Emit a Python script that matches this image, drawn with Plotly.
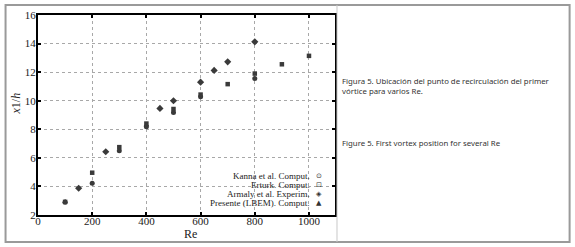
import plotly.graph_objects as go

# ---- data ----
kanna_re = [100, 200, 300, 400, 500, 600, 800]
kanna_x1 = [2.9, 4.22, 6.5, 8.17, 9.18, 10.27, 11.56]

erturk_re = [100, 200, 300, 400, 500, 600, 700, 800, 900, 1000]
erturk_x1 = [2.92, 4.96, 6.75, 8.4, 9.42, 10.43, 11.16, 11.9, 12.55, 13.14]

armaly_re = [150, 250, 450, 500, 600, 650, 700, 800]
armaly_x1 = [3.87, 6.43, 9.46, 10.0, 11.3, 12.12, 12.72, 14.12]

presente_re = [100, 400]
presente_x1 = [2.95, 8.3]

x_ticks = [0, 200, 400, 600, 800, 1000]
y_ticks = [2, 4, 6, 8, 10, 12, 14, 16]

legend_names = ["Kanna et al. Comput.", "Erturk. Comput.",
                "Armaly et al. Experim.", "Presente (LBEM). Comput."]
legend_syms = ["⊙", "⊡", "◈", "▲"]

caption_es = "Figura 5. Ubicación del punto de recirculación del primer<br>vórtice para varios Re."
caption_en = "Figure 5. First vortex position for several Re"

# ---- layout geometry (pixels) ----
W, H = 575, 247
L, R, T, B = 37.5, 335, 15, 215


def px(x):
    return (x - L) / (R - L)


def py(y):
    return (B - y) / (B - T)


mcol = "#3a3a3a"
fig = go.Figure()
fig.add_trace(go.Scatter(x=kanna_re, y=kanna_x1, mode="markers", name=legend_names[0],
                         marker=dict(symbol="circle", size=5, color=mcol)))
fig.add_trace(go.Scatter(x=erturk_re, y=erturk_x1, mode="markers", name=legend_names[1],
                         marker=dict(symbol="square", size=4.5, color=mcol)))
fig.add_trace(go.Scatter(x=armaly_re, y=armaly_x1, mode="markers", name=legend_names[2],
                         marker=dict(symbol="diamond", size=5.5, color=mcol)))
fig.add_trace(go.Scatter(x=presente_re, y=presente_x1, mode="markers", name=legend_names[3],
                         marker=dict(symbol="triangle-up", size=5, color=mcol)))

axis_common = dict(
    showline=True, linecolor="black", linewidth=2, mirror="ticks",
    ticks="inside", ticklen=3, tickwidth=2, tickcolor="black",
    showgrid=True, gridcolor="#a8a8a8", griddash="dot", gridwidth=1,
    zeroline=False, automargin=False,
    tickfont=dict(family="Liberation Serif", size=11, color="#222"),
)

fig.update_layout(
    width=W, height=H,
    margin=dict(l=L, r=W - R, t=T, b=H - B, pad=0),
    paper_bgcolor="white", plot_bgcolor="white",
    showlegend=False,
    xaxis=dict(range=[0, 1096], tickvals=x_ticks, ticklabelstandoff=-5, **axis_common),
    yaxis=dict(range=[2, 16], tickvals=y_ticks, ticklabelstandoff=-2, **axis_common),
)

# axis titles
fig.add_annotation(xref="paper", yref="paper", x=px(190), y=py(234),
                   xanchor="center", yanchor="middle", showarrow=False, text="Re",
                   font=dict(family="Liberation Serif", size=12, color="#222"))
fig.add_annotation(xref="paper", yref="paper", x=px(15), y=py(104),
                   xanchor="center", yanchor="middle", showarrow=False, textangle=-90,
                   text="<i>x</i>1/<i>h</i>",
                   font=dict(family="Liberation Serif", size=12, color="#222"))

# frame and divider
fig.add_shape(type="rect", xref="paper", yref="paper",
              x0=px(5), x1=px(570), y0=py(242), y1=py(5),
              line=dict(color="#9a9a9a", width=2), layer="below")
fig.add_shape(type="line", xref="paper", yref="paper",
              x0=px(337), x1=px(337), y0=py(242), y1=py(5),
              line=dict(color="#c8c8c8", width=1))

# legend (text right-aligned, symbol on the right)
rows = [176, 185, 194, 203]
for name, sym, yy in zip(legend_names, legend_syms, rows):
    fig.add_annotation(xref="paper", yref="paper", x=px(311), y=py(yy),
                       xanchor="right", yanchor="middle", showarrow=False, text=name,
                       font=dict(family="Liberation Serif", size=9, color="#222"),
                       borderpad=0)
    fig.add_annotation(xref="paper", yref="paper", x=px(319), y=py(yy),
                       xanchor="center", yanchor="middle", showarrow=False, text=sym,
                       font=dict(family="DejaVu Sans", size=7, color="#333"),
                       borderpad=0)

# captions
fig.add_annotation(xref="paper", yref="paper", x=px(340), y=py(86),
                   xanchor="left", yanchor="middle", showarrow=False, align="left",
                   text=caption_es,
                   font=dict(family="Noto Sans", size=7.8, color="#333"))
fig.add_annotation(xref="paper", yref="paper", x=px(340), y=py(142.5),
                   xanchor="left", yanchor="middle", showarrow=False, align="left",
                   text=caption_en,
                   font=dict(family="Noto Sans", size=7.8, color="#333"))

fig.write_html("out.html", config={"displayModeBar": False},
               post_script="document.body.style.margin='0';document.body.style.overflow='hidden';")
